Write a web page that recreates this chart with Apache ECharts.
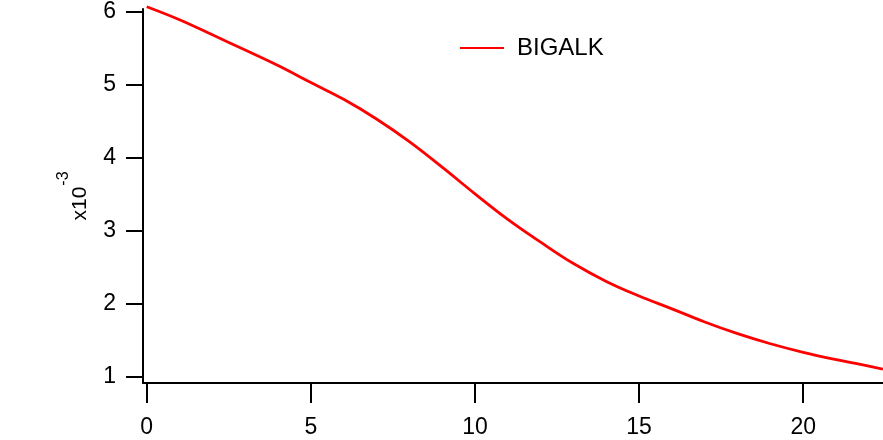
<!DOCTYPE html>
<html>
<head>
<meta charset="utf-8">
<script src="https://cdn.jsdelivr.net/npm/echarts@6/dist/echarts.min.js"></script>
<style>
html,body{margin:0;padding:0;background:#fff;}
#chart{width:883px;height:440px;}
</style>
</head>
<body>
<div id="chart"></div>
<script>
// Data
var seriesName = 'BIGALK';
var xValues = [0, 1, 2, 3, 4, 5, 6, 7, 8, 9, 10, 11, 12, 13, 14, 15, 16, 17, 18, 19, 20, 21, 22, 22.43];
var yValues = [6.068e-3, 5.89e-3, 5.683e-3, 5.475e-3, 5.263e-3, 5.03e-3, 4.80e-3, 4.53e-3, 4.22e-3, 3.87e-3,
               3.505e-3, 3.155e-3, 2.843e-3, 2.55e-3, 2.305e-3, 2.105e-3, 1.93e-3, 1.75e-3, 1.59e-3, 1.452e-3,
               1.335e-3, 1.235e-3, 1.145e-3, 1.105e-3];
var xTicks = [0, 5, 10, 15, 20];
var yTicks = [1e-3, 2e-3, 3e-3, 4e-3, 5e-3, 6e-3];
var yAxisName = 'x10';
var yAxisExp = '-3';

var points = xValues.map(function (x, i) { return [x, yValues[i]]; });

var chart = echarts.init(document.getElementById('chart'), null, {renderer: 'canvas'});
var fontFam = '"Liberation Sans", Arial, sans-serif';
chart.setOption({
  animation: false,
  backgroundColor: '#ffffff',
  grid: {left: 143, right: 0, top: 9, bottom: 57, containLabel: false},
  legend: {
    left: 455, top: 31,
    icon: 'rect', itemWidth: 44, itemHeight: 2,
    textStyle: {fontFamily: fontFam, fontSize: 24, color: '#000', padding: [0, 0, 0, 8]},
    data: [seriesName]
  },
  xAxis: {
    type: 'value', min: -0.113, max: 22.43,
    axisLine: {show: true, onZero: false, lineStyle: {color: '#000', width: 2}},
    axisTick: {show: true, length: 20, lineStyle: {color: '#000', width: 2}, customValues: xTicks},
    axisLabel: {show: true, margin: 33, fontFamily: fontFam, fontSize: 23, color: '#000', customValues: xTicks,
      showMinLabel: true, showMaxLabel: true},
    splitLine: {show: false}
  },
  yAxis: {
    type: 'value', min: 0.914e-3, max: 6.037e-3,
    name: '{a|' + yAxisName + '}{b|' + yAxisExp + '}',
    nameLocation: 'middle', nameRotate: 90, nameGap: 52,
    nameTextStyle: {
      fontFamily: fontFam, color: '#000',
      rich: {
        a: {fontFamily: fontFam, fontSize: 21, color: '#000', verticalAlign: 'bottom'},
        b: {fontFamily: fontFam, fontSize: 16, color: '#000', verticalAlign: 'bottom', padding: [0, 0, 19, 1]}
      }
    },
    axisLine: {show: true, onZero: false, lineStyle: {color: '#000', width: 2}},
    axisTick: {show: true, length: 17, lineStyle: {color: '#000', width: 2}, customValues: yTicks},
    axisLabel: {show: true, margin: 27, fontFamily: fontFam, fontSize: 23, color: '#000', customValues: yTicks,
      formatter: function (v) { return String(Math.round(v * 1000)); }},
    splitLine: {show: false}
  },
  series: [{
    name: seriesName,
    type: 'line',
    data: points,
    symbol: 'none',
    smooth: 0.4,
    clip: false,
    color: '#ff0000',
    lineStyle: {color: '#ff0000', width: 2.8}
  }]
});
</script>
</body>
</html>
